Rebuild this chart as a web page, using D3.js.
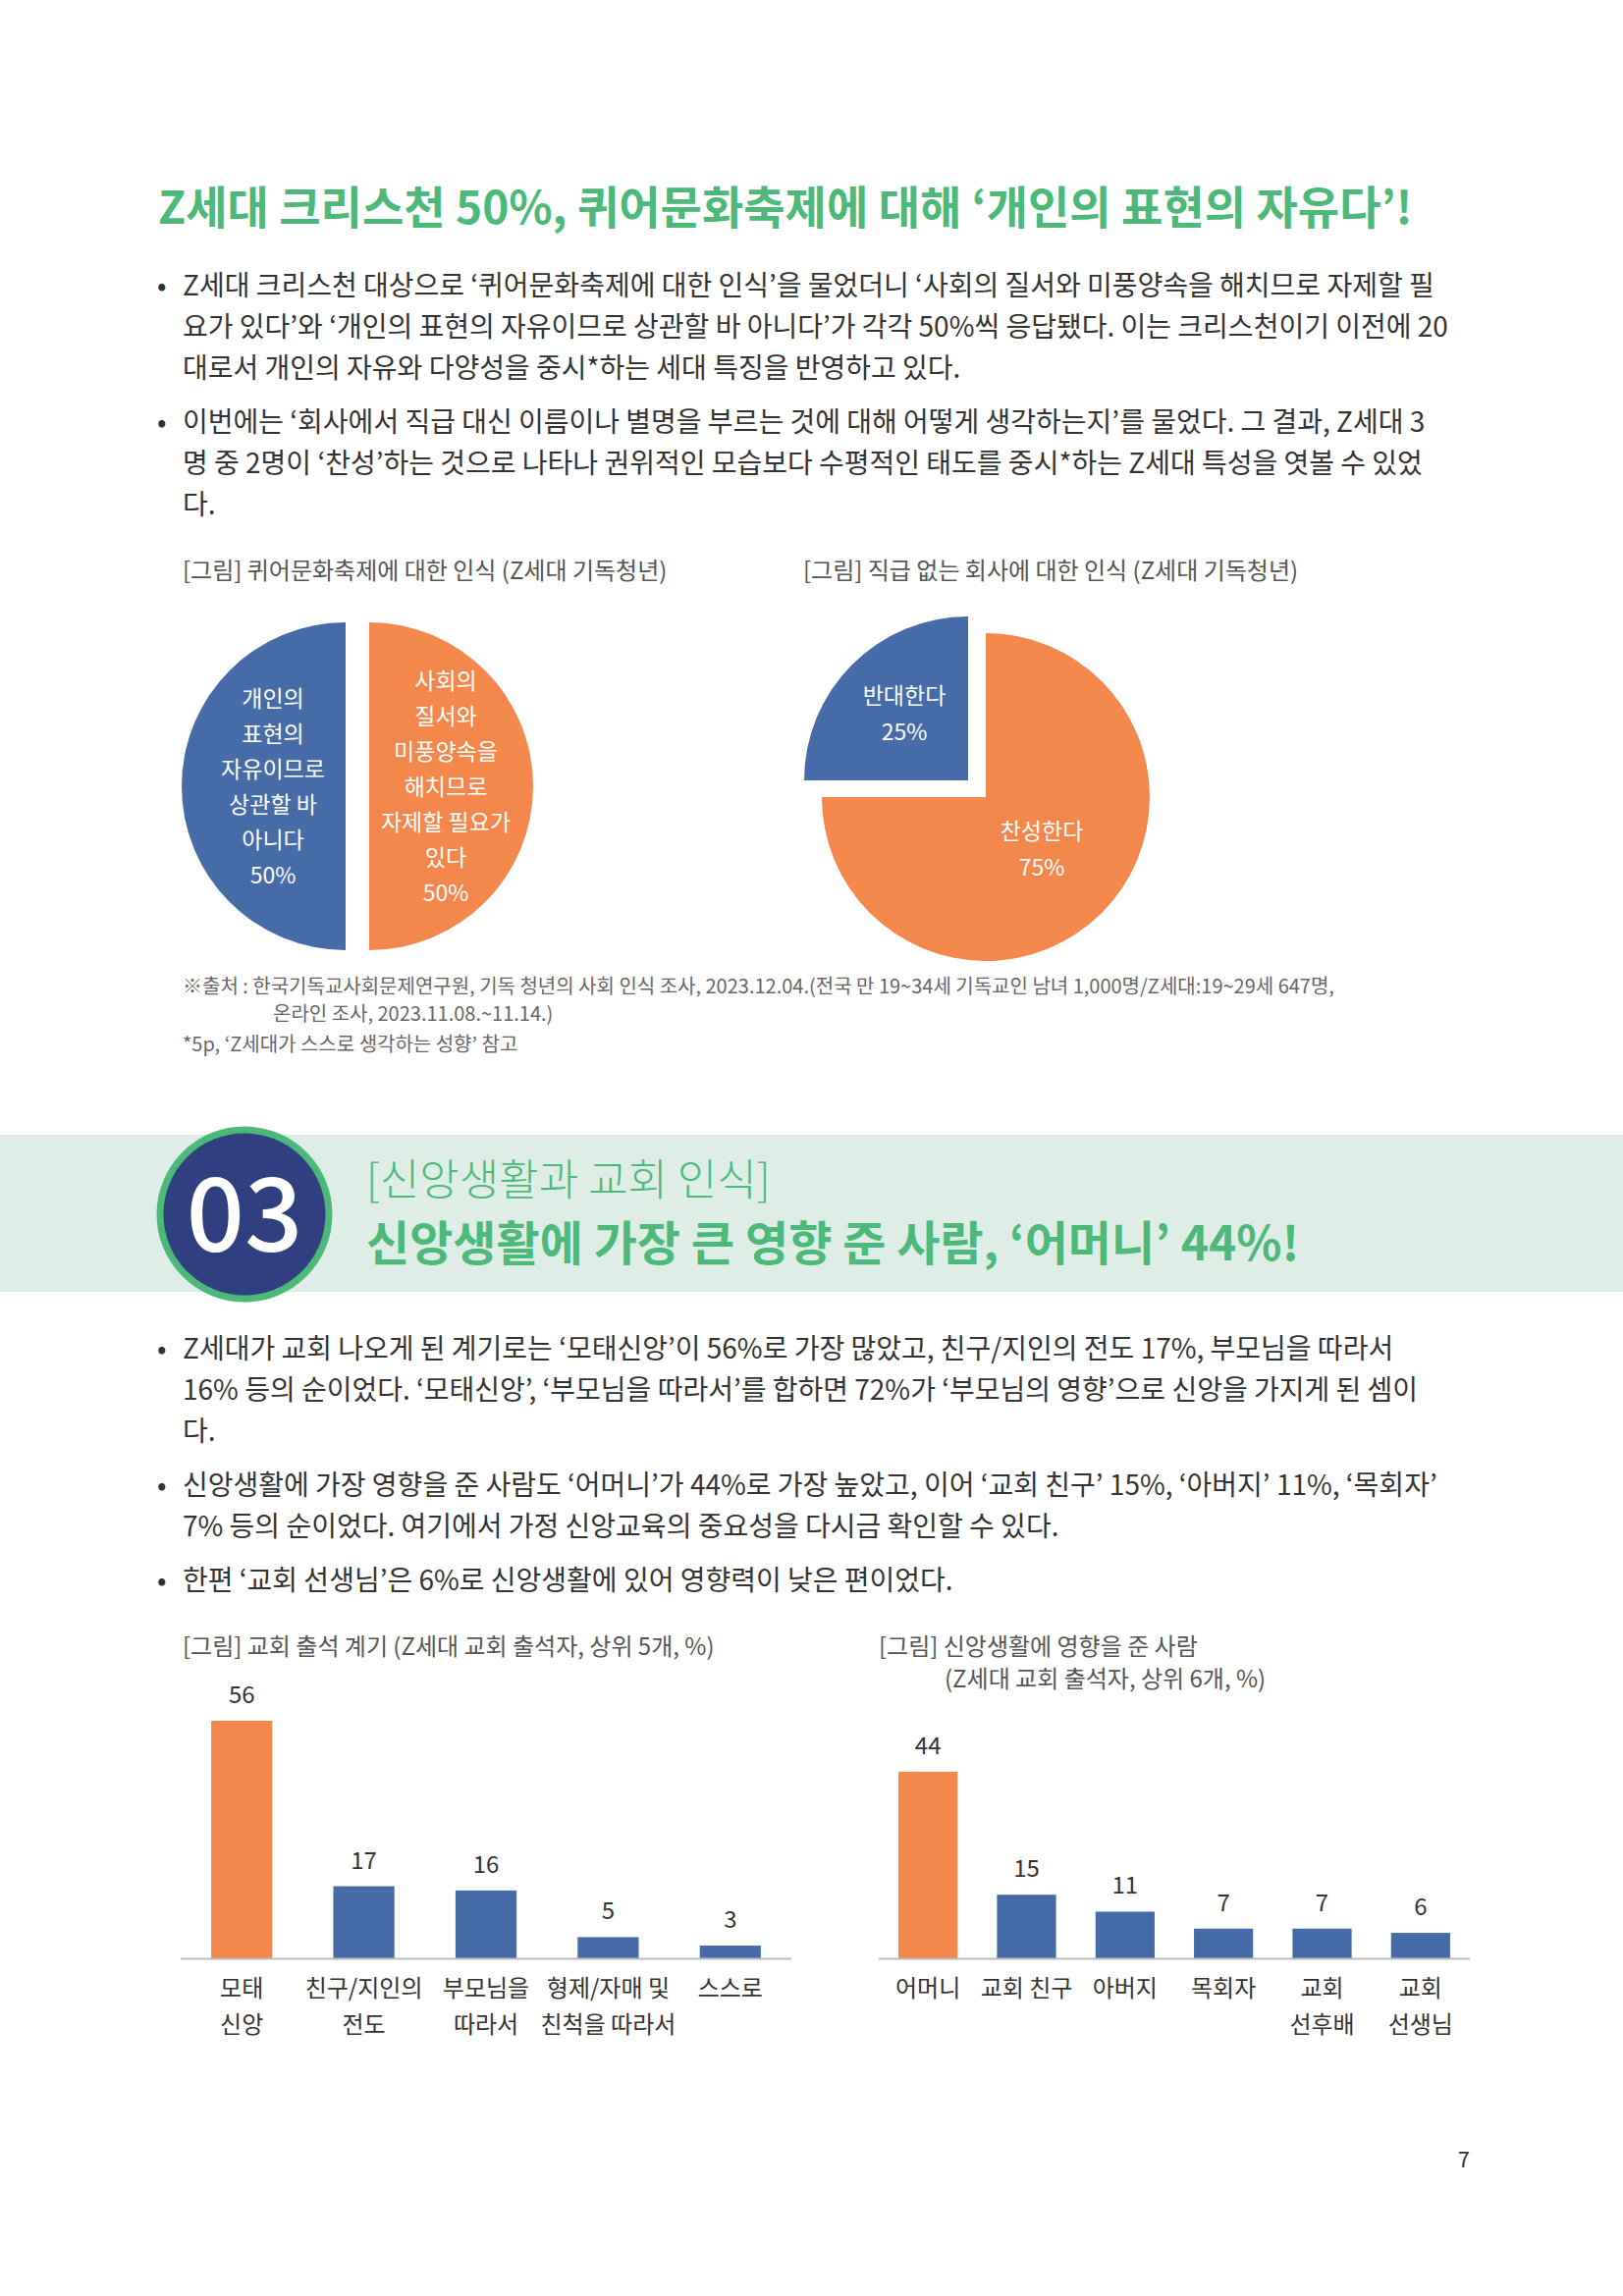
<!DOCTYPE html>
<html><head><meta charset="utf-8">
<script src="https://cdn.jsdelivr.net/npm/d3@7"></script>
<style>body{margin:0;background:#fff}svg{display:block;font-family:"Noto Sans CJK KR","Noto Sans",sans-serif}</style>
</head><body><svg id="page" width="1653" height="2339"></svg>
<script>
// chart data
const festivalLabels = ['사회의|질서와|미풍양속을|해치므로|자제할 필요가|있다|50%', '개인의|표현의|자유이므로|상관할 바|아니다|50%'];
const festivalValues = [50, 50];
const titleLabels = ['찬성한다|75%', '반대한다|25%'];
const titleValues = [75, 25];
const reasonCats = ['모태|신앙', '친구/지인의|전도', '부모님을|따라서', '형제/자매 및|친척을 따라서', '스스로'];
const reasonValues = [56, 17, 16, 5, 3];
const peopleCats = ['어머니', '교회 친구', '아버지', '목회자', '교회|선후배', '교회|선생님'];
const peopleValues = [44, 15, 11, 7, 7, 6];

const orange = '#f4874b', blue = '#466ca8', green = '#4cb87a', ink = '#333';
const svg = d3.select('#page');

function lines(x, y, arr, lh, opts) {
	const t = svg.append('text').attr('x', x).attr('y', y)
		.attr('font-size', opts.size).attr('fill', opts.fill || ink)
		.attr('text-anchor', opts.anchor || 'start').attr('font-weight', opts.weight || 400);
	arr.forEach((s, i) => t.append('tspan').attr('x', x).attr('dy', i ? lh : 0).text(s));
	return t;
}

// title
lines(161, 228, ['Z세대 크리스천 50%, 퀴어문화축제에 대해 ‘개인의 표현의 자유다’!'], 0, { size: 46, fill: green, weight: 700 });

// bullets
function bullets(y0, paras) {
	let y = y0;
	paras.forEach((p) => {
		svg.append('text').attr('x', 160).attr('y', y).attr('font-size', 28).attr('fill', ink).text('•');
		lines(186, y, p, 42, { size: 28 });
		y += p.length * 42 + 13;
	});
}
bullets(301, [
	['Z세대 크리스천 대상으로 ‘퀴어문화축제에 대한 인식’을 물었더니 ‘사회의 질서와 미풍양속을 해치므로 자제할 필', '요가 있다’와 ‘개인의 표현의 자유이므로 상관할 바 아니다’가 각각 50%씩 응답됐다. 이는 크리스천이기 이전에 20', '대로서 개인의 자유와 다양성을 중시*하는 세대 특징을 반영하고 있다.'],
	['이번에는 ‘회사에서 직급 대신 이름이나 별명을 부르는 것에 대해 어떻게 생각하는지’를 물었다. 그 결과, Z세대 3', '명 중 2명이 ‘찬성’하는 것으로 나타나 권위적인 모습보다 수평적인 태도를 중시*하는 Z세대 특성을 엿볼 수 있었', '다.']
]);

lines(186, 590, ['[그림] 퀴어문화축제에 대한 인식 (Z세대 기독청년)'], 0, { size: 24, fill: '#555' });
lines(818, 590, ['[그림] 직급 없는 회사에 대한 인식 (Z세대 기독청년)'], 0, { size: 24, fill: '#555' });

// pie 1
const r = 167;
const arc = d3.arc().innerRadius(0).outerRadius(r);
const pie = d3.pie().sort(null).startAngle(0);
const p1 = svg.append('g').attr('transform', 'translate(364,801)');
p1.selectAll('path').data(pie(festivalValues)).join('path')
	.attr('d', arc).attr('fill', (d, i) => i ? blue : orange)
	.attr('transform', (d) => { const a = (d.startAngle + d.endAngle) / 2; return `translate(${12 * Math.sin(a)},${-12 * Math.cos(a)})`; });
lines(454, 702, festivalLabels[0].split('|'), 36, { size: 23, fill: '#fff', anchor: 'middle' });
lines(278, 720, festivalLabels[1].split('|'), 36, { size: 23, fill: '#fff', anchor: 'middle' });

// pie 2
const p2 = svg.append('g').attr('transform', 'translate(1004,812)');
p2.selectAll('path').data(pie(titleValues)).join('path')
	.attr('d', arc).attr('fill', (d, i) => i ? blue : orange)
	.attr('transform', (d, i) => i ? 'translate(-18,-17)' : null);
lines(921, 717, titleLabels[1].split('|'), 37, { size: 23, fill: '#fff', anchor: 'middle' });
lines(1061, 855, titleLabels[0].split('|'), 37, { size: 23, fill: '#fff', anchor: 'middle' });

// source
lines(186, 1012, ['※출처 : 한국기독교사회문제연구원, 기독 청년의 사회 인식 조사, 2023.12.04.(전국 만 19~34세 기독교인 남녀 1,000명/Z세대:19~29세 647명,'], 0, { size: 20, fill: '#666' });
lines(278, 1040, ['온라인 조사, 2023.11.08.~11.14.)'], 0, { size: 20, fill: '#666' });
lines(186, 1071, ['*5p, ‘Z세대가 스스로 생각하는 성향’ 참고'], 0, { size: 20, fill: '#666' });

// section band
svg.append('rect').attr('x', 0).attr('y', 1156).attr('width', 1653).attr('height', 160).attr('fill', '#deeee6');
svg.append('circle').attr('cx', 249).attr('cy', 1237).attr('r', 86).attr('fill', '#2f3f7f').attr('stroke', green).attr('stroke-width', 7);
lines(249, 1275, ['03'], 0, { size: 104, fill: '#fff', anchor: 'middle', weight: 500 });
lines(373, 1218, ['[신앙생활과 교회 인식]'], 0, { size: 44, fill: green, weight: 300 });
lines(373, 1284, ['신앙생활에 가장 큰 영향 준 사람, ‘어머니’ 44%!'], 0, { size: 48, fill: green, weight: 700 });

bullets(1384, [
	['Z세대가 교회 나오게 된 계기로는 ‘모태신앙’이 56%로 가장 많았고, 친구/지인의 전도 17%, 부모님을 따라서', '16% 등의 순이었다. ‘모태신앙’, ‘부모님을 따라서’를 합하면 72%가 ‘부모님의 영향’으로 신앙을 가지게 된 셈이', '다.'],
	['신앙생활에 가장 영향을 준 사람도 ‘어머니’가 44%로 가장 높았고, 이어 ‘교회 친구’ 15%, ‘아버지’ 11%, ‘목회자’', '7% 등의 순이었다. 여기에서 가정 신앙교육의 중요성을 다시금 확인할 수 있다.'],
	['한편 ‘교회 선생님’은 6%로 신앙생활에 있어 영향력이 낮은 편이었다.']
]);

lines(186, 1686, ['[그림] 교회 출석 계기 (Z세대 교회 출석자, 상위 5개, %)'], 0, { size: 24, fill: '#555' });
lines(895, 1686, ['[그림] 신앙생활에 영향을 준 사람'], 0, { size: 24, fill: '#555' });
lines(962, 1719, ['(Z세대 교회 출석자, 상위 6개, %)'], 0, { size: 24, fill: '#555' });

// bar charts
const base = 1995;
const y = d3.scaleLinear().domain([0, 56]).range([base, base - 242]);
function bars(x0, x1, cats, vals, pad) {
	const x = d3.scaleBand().domain(cats).range([x0, x1]).paddingInner(pad).paddingOuter(pad / 2);
	const g = svg.append('g');
	g.selectAll('rect').data(vals).join('rect')
		.attr('x', (d, i) => x(cats[i])).attr('width', x.bandwidth())
		.attr('y', (d) => y(d)).attr('height', (d) => base - y(d))
		.attr('fill', (d, i) => i ? blue : orange);
	g.selectAll('text.v').data(vals).join('text').attr('class', 'v')
		.attr('x', (d, i) => x(cats[i]) + x.bandwidth() / 2).attr('y', (d) => y(d) - 18)
		.attr('text-anchor', 'middle').attr('font-size', 24).attr('fill', ink).text((d) => d);
	svg.append('line').attr('x1', x0).attr('x2', x1).attr('y1', base + 0.5).attr('y2', base + 0.5)
		.attr('stroke', '#bbb').attr('stroke-width', 2);
	cats.forEach((c) => lines(x(c) + x.bandwidth() / 2, 2034, c.split('|'), 37, { size: 24, anchor: 'middle' }));
}
bars(184, 806, reasonCats, reasonValues, 0.5);
bars(895, 1497, peopleCats, peopleValues, 0.4);

lines(1497, 2208, ['7'], 0, { size: 22, anchor: 'end' });
</script></body></html>
